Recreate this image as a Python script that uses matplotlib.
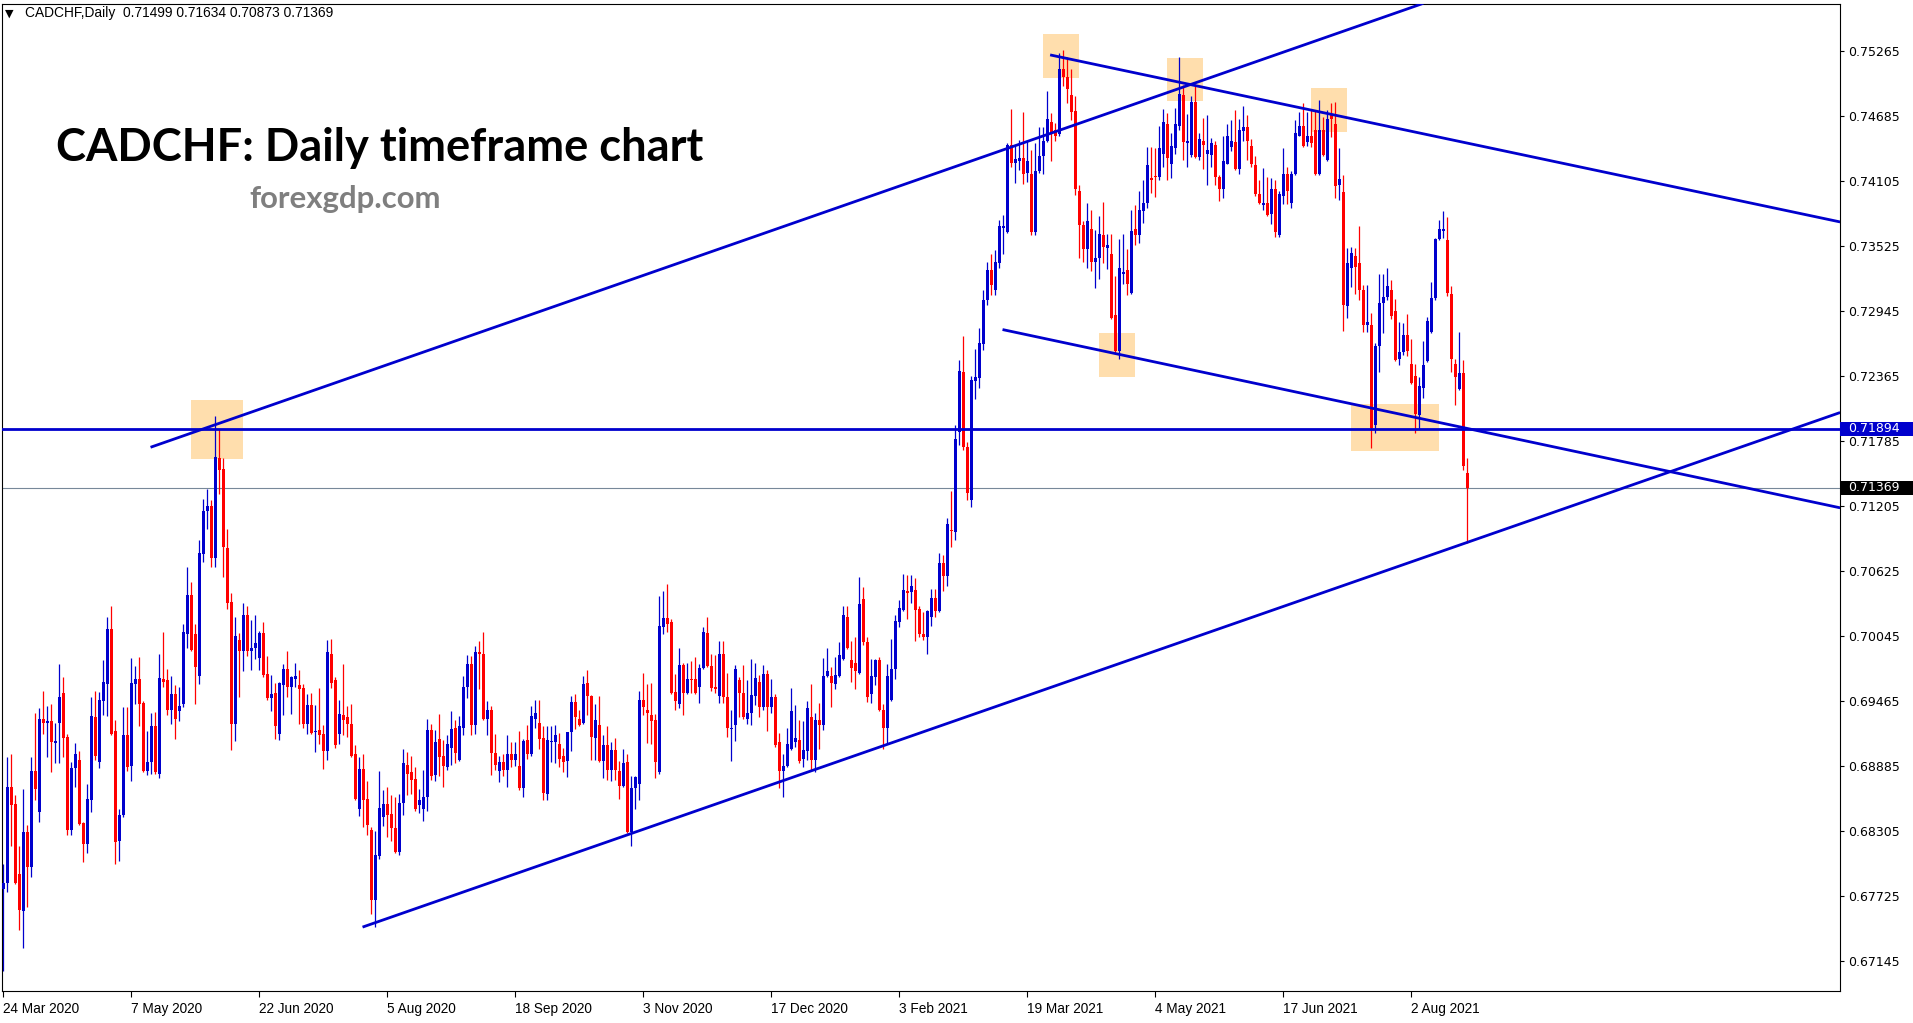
import numpy as np
import matplotlib.pyplot as plt
from matplotlib.patches import Rectangle
from matplotlib.transforms import blended_transform_factory

# ---- chart data (CADCHF daily) ----
opens = [
    .6779, .6784, .6870, .6855, .6792, .6759, .6830, .6799, .6884, .6848,
    .6931, .6927, .6929, .6909, .6927, .6954, .6915, .6832, .6887, .6894,
    .6838, .6819, .6858, .6932, .6892, .6947, .6962, .7011, .6920, .6822,
    .6845, .6916, .6889, .6962, .6966, .6945, .6884, .6892, .6924, .6882,
    .6966, .6965, .6939, .6953, .6938, .6944, .7006, .7041, .7006, .6969,
    .7078, .7116, .7121, .7074, .7163, .7154, .7083, .7035, .6926, .7001,
    .6991, .7023, .6991, .6994, .6985, .7007, .6971, .6949, .6954, .6917,
    .6961, .6975, .6959, .6966, .6961, .6958, .6926, .6943, .6919, .6921,
    .6917, .6902, .6989, .6965, .6917, .6934, .6932, .6926, .6899, .6850,
    .6886, .6859, .6832, .6769, .6808, .6843, .6855, .6846, .6833, .6812,
    .6856, .6890, .6883, .6877, .6854, .6850, .6861, .6921, .6881, .6913,
    .6898, .6888, .6905, .6923, .6894, .6923, .6959, .6980, .6925, .6990,
    .6989, .6931, .6939, .6900, .6884, .6892, .6885, .6899, .6894, .6889,
    .6869, .6912, .6899, .6931, .6927, .6914, .6864, .6910, .6910, .6908,
    .6898, .6893, .6919, .6946, .6931, .6927, .6963, .6951, .6914, .6925,
    .6893, .6907, .6885, .6903, .6884, .6871, .6892, .6830, .6869, .6873,
    .6948, .6939, .6934, .6930, .6883, .7013, .7021, .7017, .6955, .6944,
    .6979, .6954, .6966, .6966, .6959, .6976, .7007, .6978, .6959, .6951,
    .6989, .6950, .6922, .6925, .6965, .6954, .6931, .6936, .6951, .6964,
    .6941, .6971, .6941, .6950, .6910, .6884, .6889, .6904, .6910, .6912,
    .6895, .6902, .6932, .6894, .6930, .6925, .6969, .6969, .6962, .6969,
    .6984, .7022, .6983, .6981, .6972, .7038, .6999, .6953, .6968, .6983,
    .6939, .6923, .6948, .6975, .7017, .7028, .7045, .7044, .7046, .7029,
    .7006, .7004, .7022, .7039, .7027, .7070, .7058, .7099, .7097, .7187,
    .7240, .7173, .7126, .7232, .7235, .7265, .7304, .7331, .7313, .7337,
    .7369, .7365, .7443, .7427, .7428, .7431, .7418, .7417, .7365, .7419,
    .7433, .7446, .7463, .7456, .7452, .7510, .7503, .7487, .7473, .7402,
    .7371, .7350, .7368, .7338, .7342, .7362, .7351, .7345, .7291, .7259,
    .7328, .7331, .7311, .7368, .7362, .7384, .7391, .7413, .7415, .7414,
    .7435, .7461, .7426, .7440, .7460, .7487, .7444, .7434, .7481, .7432,
    .7446, .7435, .7434, .7443, .7414, .7403, .7426, .7441, .7445, .7421,
    .7455, .7459, .7442, .7425, .7399, .7389, .7391, .7381, .7403, .7362,
    .7397, .7417, .7391, .7417, .7451, .7460, .7445, .7451, .7456, .7417,
    .7456, .7429, .7469, .7461, .7407, .7401, .7299, .7333, .7344, .7337,
    .7313, .7282, .7282, .7193, .7263, .7302, .7307, .7313, .7295, .7252,
    .7258, .7273, .7247, .7237, .7202, .7226, .7250, .7276, .7306, .7359,
    .7366, .7358, .7310, .7247, .7225, .7239, .71499,
]

highs = [
    .6801, .6897, .6899, .6863, .6817, .6868, .6836, .6897, .6936, .6940,
    .6956, .6942, .6944, .6927, .6980, .6968, .6917, .6892, .6909, .6902,
    .6839, .6873, .6950, .6956, .6955, .6983, .7022, .7031, .6930, .6850,
    .6941, .6941, .6985, .6978, .6986, .6947, .6920, .6936, .6937, .6989,
    .7008, .6975, .6969, .6961, .6959, .7015, .7066, .7053, .7015, .7090,
    .7127, .7136, .7126, .7201, .7189, .7163, .7100, .7043, .7022, .7007,
    .7034, .7031, .7019, .7023, .7009, .7017, .6987, .6970, .6963, .6964,
    .6980, .6991, .6969, .6981, .6974, .6962, .6953, .6954, .6943, .6958,
    .6925, .7001, .7002, .6968, .6948, .6980, .6942, .6944, .6907, .6897,
    .6899, .6875, .6834, .6831, .6884, .6867, .6870, .6863, .6861, .6864,
    .6904, .6901, .6898, .6888, .6868, .6885, .6931, .6926, .6921, .6935,
    .6912, .6916, .6938, .6930, .6933, .6969, .6988, .6987, .6996, .7000,
    .7008, .6947, .6942, .6917, .6898, .6899, .6916, .6910, .6910, .6920,
    .6913, .6925, .6942, .6948, .6948, .6924, .6924, .6924, .6925, .6918,
    .6905, .6919, .6951, .6953, .6939, .6969, .6974, .6952, .6944, .6951,
    .6916, .6924, .6910, .6914, .6893, .6904, .6899, .6880, .6880, .6956,
    .6972, .6962, .6963, .6935, .7040, .7045, .7051, .7020, .6971, .6994,
    .6981, .6981, .6982, .6986, .6980, .7013, .7022, .6989, .6988, .7000,
    .7000, .6972, .6939, .6979, .6968, .6979, .6965, .6984, .6981, .6970,
    .6979, .6974, .6966, .6953, .6918, .6899, .6923, .6958, .6943, .6930,
    .6929, .6947, .6962, .6936, .6945, .6985, .6994, .6977, .6986, .6999,
    .7031, .7031, .7000, .7004, .7057, .7048, .7004, .6984, .6984, .6986,
    .6944, .6980, .7002, .7023, .7037, .7060, .7059, .7059, .7056, .7031,
    .7026, .7028, .7047, .7047, .7079, .7077, .7110, .7134, .7193, .7251,
    .7272, .7178, .7237, .7261, .7279, .7313, .7338, .7345, .7349, .7376,
    .7380, .7444, .7475, .7443, .7447, .7472, .7446, .7438, .7444, .7459,
    .7459, .7491, .7471, .7462, .7525, .7527, .7521, .7510, .7486, .7407,
    .7375, .7391, .7385, .7367, .7379, .7392, .7363, .7363, .7326, .7359,
    .7363, .7350, .7385, .7389, .7402, .7411, .7441, .7441, .7440, .7460,
    .7475, .7471, .7453, .7476, .7521, .7496, .7470, .7486, .7497, .7453,
    .7467, .7469, .7449, .7446, .7416, .7451, .7461, .7465, .7474, .7466,
    .7477, .7469, .7448, .7433, .7411, .7422, .7414, .7413, .7411, .7402,
    .7440, .7423, .7419, .7465, .7472, .7480, .7472, .7474, .7474, .7483,
    .7468, .7474, .7480, .7481, .7440, .7416, .7351, .7352, .7351, .7370,
    .7318, .7318, .7293, .7266, .7328, .7328, .7333, .7322, .7305, .7285,
    .7284, .7292, .7270, .7247, .7236, .7268, .7289, .7320, .7360, .7376,
    .7384, .7378, .7317, .7252, .7276, .7251, .71634,
]

lows = [
    .6706, .6776, .6817, .6783, .6742, .6726, .6763, .6790, .6858, .6839,
    .6917, .6897, .6883, .6891, .6891, .6897, .6827, .6827, .6870, .6836,
    .6803, .6811, .6848, .6894, .6887, .6934, .6933, .6916, .6801, .6804,
    .6843, .6884, .6875, .6944, .6924, .6883, .6881, .6882, .6882, .6878,
    .6959, .6934, .6926, .6913, .6929, .6941, .6994, .6991, .6944, .6962,
    .7071, .7100, .7066, .7066, .7131, .7057, .7029, .6903, .6911, .6950,
    .6973, .6987, .6974, .6984, .6974, .6968, .6948, .6938, .6913, .6912,
    .6934, .6950, .6935, .6959, .6926, .6923, .6917, .6917, .6901, .6908,
    .6886, .6894, .6958, .6905, .6908, .6916, .6915, .6897, .6858, .6844,
    .6834, .6827, .6757, .6745, .6806, .6835, .6825, .6822, .6811, .6809,
    .6845, .6863, .6864, .6849, .6847, .6840, .6849, .6876, .6875, .6880,
    .6870, .6885, .6890, .6891, .6893, .6916, .6949, .6916, .6917, .6957,
    .6930, .6916, .6881, .6885, .6874, .6880, .6870, .6888, .6889, .6867,
    .6861, .6895, .6898, .6923, .6904, .6858, .6858, .6892, .6891, .6888,
    .6883, .6879, .6902, .6922, .6924, .6926, .6934, .6894, .6894, .6892,
    .6878, .6876, .6875, .6876, .6859, .6870, .6829, .6817, .6850, .6858,
    .6934, .6909, .6908, .6878, .6882, .7006, .7008, .6953, .6939, .6940,
    .6934, .6953, .6954, .6953, .6945, .6975, .6977, .6956, .6954, .6945,
    .6945, .6915, .6893, .6911, .6932, .6931, .6926, .6925, .6943, .6932,
    .6939, .6920, .6936, .6906, .6869, .6861, .6888, .6903, .6906, .6891,
    .6888, .6894, .6885, .6883, .6904, .6921, .6968, .6941, .6957, .6968,
    .6983, .6993, .6964, .6957, .6971, .6997, .6946, .6945, .6961, .6938,
    .6904, .6908, .6947, .6966, .7013, .7027, .7020, .7034, .7000, .7004,
    .7001, .6989, .7014, .7022, .7026, .7045, .7049, .7084, .7090, .7175,
    .7171, .7126, .7120, .7216, .7226, .7260, .7300, .7309, .7309, .7333,
    .7345, .7364, .7423, .7409, .7420, .7408, .7410, .7362, .7362, .7418,
    .7417, .7445, .7428, .7446, .7451, .7495, .7480, .7465, .7398, .7342,
    .7338, .7333, .7330, .7315, .7323, .7337, .7332, .7287, .7257, .7252,
    .7319, .7309, .7310, .7353, .7355, .7373, .7386, .7400, .7396, .7411,
    .7423, .7411, .7413, .7435, .7456, .7429, .7423, .7432, .7431, .7429,
    .7421, .7407, .7423, .7407, .7393, .7395, .7426, .7437, .7420, .7417,
    .7446, .7429, .7423, .7397, .7390, .7385, .7379, .7372, .7361, .7361,
    .7390, .7390, .7386, .7416, .7451, .7441, .7442, .7441, .7416, .7416,
    .7433, .7428, .7450, .7395, .7394, .7277, .7288, .7316, .7310, .7304,
    .7276, .7276, .7172, .7186, .7240, .7275, .7304, .7287, .7250, .7246,
    .7255, .7254, .7229, .7186, .7189, .7217, .7249, .7275, .7304, .7358,
    .7360, .7308, .7240, .7211, .7224, .7153, .70873,
]

closes = [
    .6784, .6870, .6854, .6784, .6760, .6830, .6799, .6884, .6868, .6931,
    .6927, .6929, .6910, .6911, .6950, .6914, .6832, .6887, .6899, .6837,
    .6819, .6859, .6933, .6898, .6948, .6964, .7011, .6917, .6821, .6845,
    .6916, .6888, .6963, .6966, .6944, .6884, .6892, .6924, .6883, .6967,
    .6964, .6939, .6953, .6931, .6942, .7008, .7041, .6992, .6977, .7079,
    .7116, .7121, .7074, .7164, .7153, .7084, .7034, .6926, .7005, .6991,
    .7023, .6991, .6994, .6998, .7007, .6970, .6949, .6953, .6924, .6963,
    .6975, .6959, .6968, .6969, .6957, .6926, .6943, .6918, .6920, .6916,
    .6902, .6990, .6963, .6907, .6935, .6930, .6926, .6898, .6859, .6886,
    .6858, .6836, .6769, .6809, .6851, .6855, .6845, .6833, .6812, .6856,
    .6891, .6882, .6876, .6850, .6858, .6861, .6921, .6880, .6910, .6897,
    .6889, .6908, .6922, .6900, .6924, .6959, .6980, .6925, .6990, .6989,
    .6931, .6939, .6900, .6890, .6892, .6885, .6899, .6894, .6899, .6869,
    .6911, .6899, .6933, .6936, .6913, .6865, .6912, .6911, .6916, .6895,
    .6892, .6919, .6946, .6932, .6925, .6962, .6951, .6915, .6930, .6893,
    .6907, .6885, .6903, .6885, .6871, .6891, .6830, .6869, .6879, .6948,
    .6941, .6936, .6929, .6892, .7014, .7021, .7015, .6954, .6947, .6979,
    .6954, .6966, .6965, .6954, .6976, .7008, .6978, .6958, .6957, .6989,
    .6950, .6923, .6923, .6975, .6954, .6932, .6936, .6952, .6967, .6941,
    .6971, .6941, .6950, .6907, .6884, .6889, .6908, .6938, .6914, .6893,
    .6903, .6940, .6894, .6930, .6925, .6969, .6973, .6963, .6970, .6988,
    .7023, .6994, .6976, .6973, .7033, .6999, .6950, .6969, .6983, .6939,
    .6923, .6969, .6975, .7018, .7030, .7046, .7043, .7049, .7028, .7006,
    .7004, .7027, .7039, .7027, .7070, .7058, .7105, .7098, .7180, .7241,
    .7173, .7132, .7233, .7236, .7266, .7304, .7331, .7318, .7338, .7370,
    .7370, .7443, .7427, .7430, .7431, .7417, .7428, .7365, .7419, .7433,
    .7446, .7466, .7454, .7451, .7510, .7503, .7493, .7472, .7403, .7371,
    .7350, .7375, .7338, .7342, .7363, .7352, .7353, .7288, .7259, .7333,
    .7329, .7319, .7366, .7362, .7385, .7391, .7425, .7411, .7414, .7440,
    .7463, .7431, .7442, .7461, .7488, .7445, .7446, .7481, .7432, .7448,
    .7443, .7438, .7444, .7414, .7403, .7428, .7451, .7446, .7421, .7456,
    .7459, .7446, .7426, .7399, .7391, .7391, .7380, .7403, .7365, .7399,
    .7417, .7402, .7417, .7453, .7460, .7442, .7451, .7444, .7417, .7456,
    .7434, .7466, .7466, .7406, .7412, .7300, .7337, .7346, .7334, .7313,
    .7282, .7285, .7190, .7263, .7302, .7307, .7317, .7290, .7251, .7258,
    .7273, .7259, .7230, .7203, .7228, .7246, .7286, .7306, .7359, .7368,
    .7368, .7311, .7252, .7236, .7239, .7156, .71369,
]

# date labels, one every 32 bars
date_labels = ["24 Mar 2020", "7 May 2020", "22 Jun 2020", "5 Aug 2020",
               "18 Sep 2020", "3 Nov 2020", "17 Dec 2020", "3 Feb 2021",
               "19 Mar 2021", "4 May 2021", "17 Jun 2021", "2 Aug 2021"]
date_bars = [0, 32, 64, 96, 128, 160, 192, 224, 256, 288, 320, 352]

# price scale labels on the right
price_ticks = [0.67145, 0.67725, 0.68305, 0.68885, 0.69465, 0.70045, 0.70625,
               0.71205, 0.71785, 0.72365, 0.72945, 0.73525, 0.74105, 0.74685,
               0.75265]

# drawn objects: trend lines as (bar, price) pairs
rising_top = [(36.8, 0.7173), (355.0, 0.7569)]
rising_support = [(89.8, 0.6745), (459.2, 0.7204)]
falling_top = [(261.7, 0.7523), (459.2, 0.7374)]
falling_mid = [(249.8, 0.7278), (459.2, 0.7119)]
level_line = 0.71894
bid_price = 0.71369

# highlight boxes: (bar from, bar to, price low, price high)
boxes = [(46.8, 59.8, 0.71626, 0.72152),
         (259.9, 268.9, 0.75027, 0.75417),
         (290.8, 299.8, 0.74822, 0.75203),
         (326.8, 335.8, 0.74545, 0.74938),
         (273.9, 282.9, 0.72360, 0.72752),
         (336.9, 358.9, 0.71700, 0.72116)]

# ---- colours ----
BULL = '#0000CD'
BEAR = '#FF0000'
LINE = '#0000CD'
BOX = '#FFDEAD'

W, H = 1913, 1023
fig = plt.figure(figsize=(W / 100, H / 100), dpi=100)
fig.patch.set_facecolor('white')

# plot area in pixels: x 1.5..1840, y 4..991
ax = fig.add_axes([1.5 / W, 1 - 991 / H, (1840 - 1.5) / W, (991 - 4) / H])
ax.set_xlim(-0.46, 459.17)
ax.set_ylim(0.66880, 0.75684)

o = np.array(opens)
h = np.array(highs)
l = np.array(lows)
c = np.array(closes)
assert len(o) == len(h) == len(l) == len(c)
x = np.arange(len(c))
up = c >= o
cols = np.where(up, BULL, BEAR)

# background boxes
for b0, b1, p0, p1 in boxes:
    ax.add_patch(Rectangle((b0, p0), b1 - b0, p1 - p0, facecolor=BOX,
                           edgecolor='none', zorder=1))

# bid line
ax.axhline(bid_price, color='#778899', lw=0.8, zorder=1.5)

# candles: wicks then bodies
ax.vlines(x, l, h, colors=cols, linewidth=0.9, zorder=2)
body = np.maximum(np.abs(c - o), 0.00005)
ax.bar(x, body, bottom=np.minimum(o, c), width=0.75, color=cols,
       linewidth=0, zorder=3)

# trend lines and level
for seg in (rising_top, rising_support, falling_top, falling_mid):
    ax.plot([seg[0][0], seg[1][0]], [seg[0][1], seg[1][1]], color=LINE,
            lw=2.0, solid_capstyle='butt', zorder=4)
ax.axhline(level_line, color=LINE, lw=2.0, zorder=4)

# axes frame and ticks
for s in ax.spines.values():
    s.set_color('black')
    s.set_linewidth(0.8)
ax.yaxis.tick_right()
ax.set_yticks(price_ticks)
ax.set_yticklabels(['%.5f' % p for p in price_ticks], fontfamily='DejaVu Sans',
                   fontsize=9)
ax.tick_params(axis='y', direction='out', length=3, width=0.8, pad=3)
ax.set_xticks(date_bars)
ax.set_xticklabels(date_labels, fontfamily='Liberation Sans', fontsize=9.8)
for lbl in ax.get_xticklabels():
    lbl.set_horizontalalignment('left')
ax.tick_params(axis='x', direction='out', length=4, width=0.8, pad=4)

# coloured price tags on the right scale
tr = blended_transform_factory(fig.transFigure, ax.transData)
for price, face in ((level_line, '#0000CD'), (bid_price, '#000000')):
    fig.add_artist(Rectangle((1840 / W, price - 0.00064), 73 / W, 0.00128,
                             transform=tr, facecolor=face, edgecolor='none',
                             zorder=5))
    fig.text(1848 / W, price, '%.5f' % price, transform=tr, color='white',
             fontfamily='DejaVu Sans', fontsize=9, va='center', zorder=6)

renderer = fig.canvas.get_renderer()


def fit_width(txt, width_px):
    # scale the font so the text spans the wanted width
    w = txt.get_window_extent(renderer).width
    txt.set_fontsize(txt.get_fontsize() * width_px / w)


# header line
fig.text(5 / W, 1 - 17 / H, '\u25bc', fontfamily='DejaVu Sans', fontsize=8,
         va='baseline')
hdr = fig.text(25 / W, 1 - 17.3 / H,
               'CADCHF,Daily  0.71499 0.71634 0.70873 0.71369',
               fontfamily='Liberation Sans', fontsize=9, va='baseline')
fit_width(hdr, 310)

# chart title and site name
title = fig.text(56 / W, 1 - 161 / H, 'CADCHF: Daily timeframe chart',
                 fontfamily='Lato', fontweight='bold', fontsize=40,
                 va='baseline', zorder=7)
fit_width(title, 648)
site = fig.text(249 / W, 1 - 208 / H, 'forexgdp.com', color='#7F7F7F',
                fontfamily='Lato', fontweight='bold', fontsize=18,
                va='baseline', zorder=7)
fit_width(site, 192)

fig.savefig('out.png', dpi=100)
